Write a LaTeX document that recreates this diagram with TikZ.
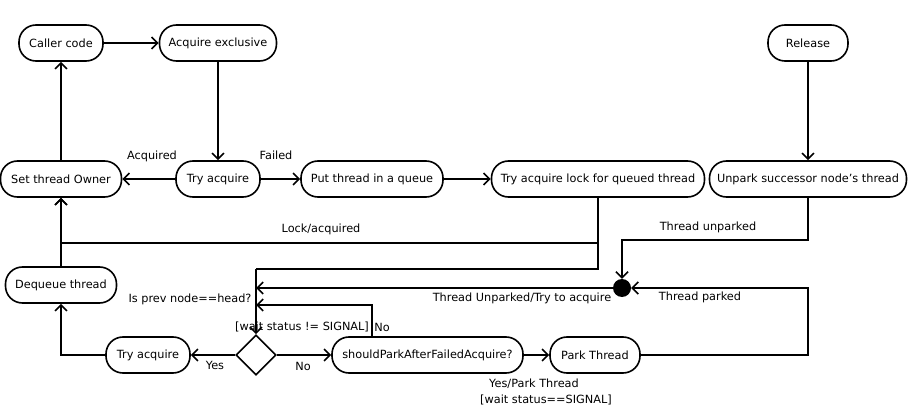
\documentclass[tikz,border=0pt]{standalone}
\usepackage{fontspec}
\setmainfont{DejaVu Sans}
\usetikzlibrary{arrows.meta,shapes.geometric}
\begin{document}
\begin{tikzpicture}[x=1pt,y=-1pt,
  box/.style={draw, line width=1.6pt, rounded corners=17pt, minimum height=36pt, inner sep=0pt, font=\fontsize{11.3}{13}\selectfont},
  arr/.style={line width=1.6pt, -{Straight Barb[length=6pt,width=12pt,line width=1.6pt]}},
  ln/.style={line width=1.6pt},
  lbl/.style={font=\fontsize{11.3}{13}\selectfont, inner sep=0pt}]
\useasboundingbox (0,0) rectangle (911,409);
% nodes
\node[box, minimum width=84pt] (caller) at (61,43) {Caller code};
\node[box, minimum width=117pt] (acq) at (218,43) {Acquire exclusive};
\node[box, minimum width=80pt] (rel) at (808,43) {Release};
\node[box, minimum width=121pt] (owner) at (61,179) {Set thread Owner};
\node[box, minimum width=84pt] (try1) at (218,179) {Try acquire};
\node[box, minimum width=142pt] (queue) at (372,179) {Put thread in a queue};
\node[box, minimum width=213pt] (lockq) at (598,179) {Try acquire lock for queued thread};
\node[box, minimum width=197pt] (unpark) at (808,179) {Unpark successor node's thread};
\node[box, minimum width=111pt] (deq) at (61,285) {Dequeue thread};
\node[box, minimum width=84pt] (try2) at (148,355) {Try acquire};
\node[draw, line width=1.6pt, diamond, minimum width=40pt, minimum height=40pt, inner sep=0pt] (dec) at (256,355) {};
\node[box, minimum width=191pt] (should) at (427.5,355) {shouldParkAfterFailedAcquire?};
\node[box, minimum width=90pt] (park) at (595,355) {Park Thread};
\node[circle, fill=black, minimum size=18pt, inner sep=0pt] (join) at (622,288) {};
% coordinates
\coordinate (la) at (598,243);
\coordinate (lb) at (598,269);
\coordinate (vtop) at (256,269);
\coordinate (u1) at (808,240);
\coordinate (u2) at (622,240);
\coordinate (p1) at (808,355);
\coordinate (p2) at (808,288);
\coordinate (jv) at (256,288);
\coordinate (n0) at (372,337);
\coordinate (n1) at (372,305);
\coordinate (nv) at (256,305);
\coordinate (t1) at (61,355);
% edges
\draw[arr] (caller) -- (acq);
\draw[arr] (acq) -- (try1);
\draw[arr] (try1) -- (owner);
\draw[arr] (try1) -- (queue);
\draw[arr] (queue) -- (lockq);
\draw[arr] (owner) -- (caller);
\draw[arr] (rel) -- (unpark);
\draw[ln] (lockq.south) -- (lb) -- (vtop);
\draw[arr] (vtop) -- (dec.north);
\draw[arr] (la) -| (owner.south);
\draw[arr] (deq) -- (owner);
\draw[arr] (unpark.south) -- (u1) -- (u2) -- (join.north);
\draw[arr] (park.east) -- (p1) -- (p2) -- (join.east);
\draw[arr] (join.west) -- (jv);
\draw[arr] (n0) -- (n1) -- (nv);
\draw[arr] (dec.west) -- (try2.east);
\draw[arr] (dec.east) -- (should.west);
\draw[arr] (try2.west) -- (t1) -- (deq.south);
\draw[arr] (should) -- (park);
% labels
\node[lbl] (lacq) at (152,156) {Acquired};
\node[lbl] (lfail) at (276,155) {Failed};
\node[lbl] (llock) at (321,229) {Lock/acquired};
\node[lbl] (lunp) at (708,227) {Thread unparked};
\node[lbl] (lprev) at (190,299) {Is prev node==head?};
\node[lbl] (lws) at (302,327) {[wait status != SIGNAL]};
\node[lbl] (lno1) at (382,327) {No};
\node[lbl] (lyes) at (215,365) {Yes};
\node[lbl] (lno2) at (303,366) {No};
\node[lbl] (ltry) at (522,298) {Thread Unparked/Try to acquire};
\node[lbl] (lpark) at (700,297) {Thread parked};
\node[lbl] (lyp) at (534,384) {Yes/Park Thread};
\node[lbl] (lsig) at (546,400) {[wait status==SIGNAL]};
\end{tikzpicture}
\end{document}
